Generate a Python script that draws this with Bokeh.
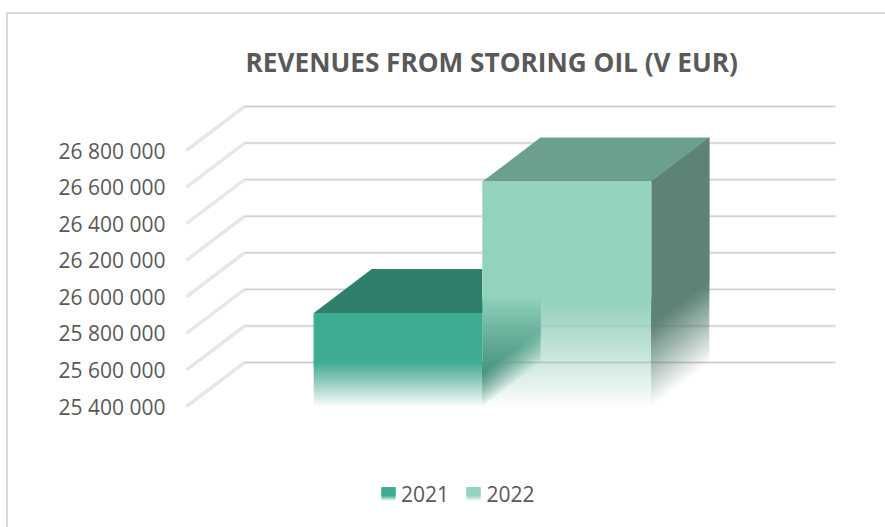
from bokeh.embed import file_html
from bokeh.resources import INLINE
from bokeh.plotting import figure
from bokeh.models import Range1d, FixedTicker, Title, InlineStyleSheet
from bokeh.core.properties import value

# ---- data ----
years = ["2021", "2022"]
revenues = [25_912_000, 26_630_000]
y_ticks = [25_400_000, 25_600_000, 25_800_000, 26_000_000, 26_200_000, 26_400_000, 26_600_000, 26_800_000]
y_labels = ["25 400 000", "25 600 000", "25 800 000", "26 000 000", "26 200 000", "26 400 000", "26 600 000", "26 800 000"]
title_text = "REVENUES FROM STORING OIL (V EUR)"
front_colors = ["#3DAC92", "#93D3BD"]
top_colors = ["#2E806C", "#6B9F8E"]
side_colors = ["#2A7C68", "#5C8374"]

# ---- layout ----
FIG_X, FIG_Y = 0, 0        # page position of the figure
FIG_W, FIG_H = 885, 527
LEFT, RIGHT_M, TOP, BOTTOM_M = 172, 45, 84, 3
FW = FIG_W - LEFT - RIGHT_M
FH = FIG_H - TOP - BOTTOM_M

PX_PER_X = 168.7
PX_PER_Y = 36.57 / 200_000
FRAME_X0_PX = FIG_X + LEFT
X_ZERO_PX = 313.3
FRONT_Y0_PX = 406.0        # page pixel of 25 400 000
FRAME_TOP_PX = FIG_Y + TOP
FRAME_BOTTOM_PX = FRAME_TOP_PX + FH

x0 = (FRAME_X0_PX - X_ZERO_PX) / PX_PER_X
x1 = x0 + FW / PX_PER_X
y_bottom = y_ticks[0] - (FRAME_BOTTOM_PX - FRONT_Y0_PX) / PX_PER_Y
y_top = y_bottom + FH / PX_PER_Y

p = figure(width=FIG_W, height=FIG_H, output_backend="svg", toolbar_location=None,
           x_range=Range1d(x0, x1), y_range=Range1d(y_bottom, y_top),
           min_border_left=LEFT, min_border_right=RIGHT_M, min_border_top=TOP, min_border_bottom=BOTTOM_M,
           frame_width=FW, frame_height=FH, background_fill_color=None, border_fill_color="white")
p.outline_line_color = None
p.grid.visible = False
p.xaxis.visible = False
ax = p.yaxis[0]
ax.ticker = FixedTicker(ticks=y_ticks)
ax.major_label_overrides = {t: l for t, l in zip(y_ticks, y_labels)}
ax.axis_line_color = None
ax.major_tick_line_color = None
ax.minor_tick_line_color = None
ax.major_tick_out = 0
ax.major_tick_in = 0
ax.major_label_standoff = 7
ax.major_label_text_font = "Open Sans"
ax.major_label_text_font_size = "21px"
ax.major_label_text_color = "#595959"

t = Title(text=title_text, align="left", text_font="Open Sans", text_font_style="bold",
          text_font_size="26.2px", text_color="#595959", offset=245 - LEFT)
p.add_layout(t, "above")

DX = 58.0 / PX_PER_X       # depth in x units
DY = 44.0 / PX_PER_Y       # depth in value units
Y_BASE = y_ticks[0]
GRID_X0 = (186 - X_ZERO_PX) / PX_PER_X
GRID_X1 = (777 - X_ZERO_PX) / PX_PER_X

# gridlines: wall + side wall
for v in y_ticks:
    p.line([GRID_X0, GRID_X0 + DX], [v, v + DY], line_color="#DADADA", line_width=3, line_alpha=0.9)
    p.line([GRID_X0, GRID_X0 + DX], [v, v + DY], line_color="#F4F4F4", line_width=1)
    p.line([GRID_X0 + DX, GRID_X1 + DX], [v + DY, v + DY], line_color="#EEEEEE", line_width=3)
    p.line([GRID_X0 + DX, GRID_X1 + DX], [v + DY, v + DY], line_color="#C9C9C9", line_width=1)


def fade_layers(face_fn, color, top, fade_start, base, n=28, end_alpha=0.04):
    """Seamless vertical fade: stack of nested faces with accumulating alpha."""
    prev = 0.0
    for i in range(n):
        f = i / (n - 1)
        target = end_alpha + (1 - end_alpha) * f
        a = 1 if i == n - 1 else 1 - (1 - target) / (1 - prev)
        lower = base + (fade_start - base) * f
        face_fn(lower, top, color, a)
        prev = target


for i, v in enumerate(revenues):
    left, right = i, i + 1

    def side(lo, hi, c, a):
        p.patch([right, right + DX, right + DX, right], [lo, lo + DY, hi + DY, hi],
                fill_color=c, fill_alpha=a, line_color=None)
    fade_layers(side, side_colors[i], v, Y_BASE + (v - Y_BASE) * 0.36, Y_BASE)

    p.patch([left, right, right + DX, left + DX], [v, v, v + DY, v + DY],
            fill_color=top_colors[i], line_color=None)

    def front(lo, hi, c, a):
        p.quad(left=left, right=right, bottom=lo, top=hi, fill_color=c, fill_alpha=a, line_color=None)
    fade_layers(front, front_colors[i], v, Y_BASE + (v - Y_BASE) * 0.48, Y_BASE)

    # faint lighter edges of the front face
    for edge in (left, right):
        p.line([edge, edge], [Y_BASE + (v - Y_BASE) * 0.48, v], line_color="white", line_alpha=0.25, line_width=1)

# legend
to_x = lambda px: (px - X_ZERO_PX) / PX_PER_X
to_y = lambda py: Y_BASE + (FRONT_Y0_PX - py) / PX_PER_Y
legend_swatch_px = [381, 466]
legend_text_px = [400.5, 486]
for i, yr in enumerate(years):
    sx = legend_swatch_px[i]
    def swatch(lo, hi, c, a, sx=sx):
        p.quad(left=to_x(sx), right=to_x(sx + 14), bottom=lo, top=hi, fill_color=c, fill_alpha=a, line_color=None)
    fade_layers(swatch, front_colors[i], to_y(486.7), to_y(495.5), to_y(500.7), n=7)
    p.text([to_x(legend_text_px[i])], [to_y(493.2)], text=[yr], text_font=value("Open Sans"), text_font_size="21px",
           text_color="#595959", text_baseline="middle", text_align="left")

# chart border: only its top and left edges fall inside the picture
p.stylesheets = [InlineStyleSheet(css=":host::after{content:'';position:absolute;left:6px;top:12px;right:0;bottom:0;"
                                      "border-top:2px solid #DCDCDC;border-left:2px solid #D9D9D9;pointer-events:none;}")]

open("out.html", "w").write(file_html(p, INLINE))
